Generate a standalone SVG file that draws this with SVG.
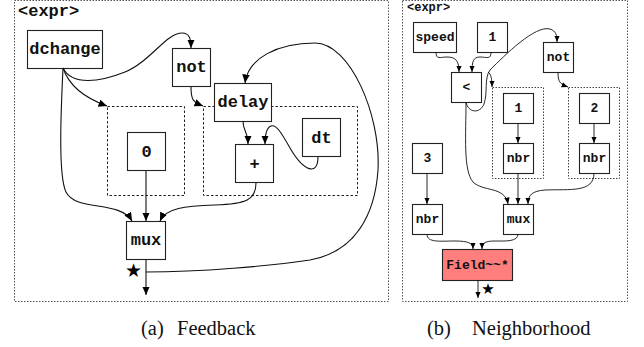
<svg xmlns="http://www.w3.org/2000/svg" width="644" height="347" viewBox="0 0 644 347">
<defs>
<style>
.box{fill:#fff;stroke:#222;stroke-width:1.1}
.hot{fill:#ff7f7f;stroke:#222;stroke-width:1.1}
.outer{fill:none;stroke:#555;stroke-width:1;stroke-dasharray:1.5,1.5}
.grp{fill:none;stroke:#222;stroke-width:1;stroke-dasharray:2.5,2}
.grp2{fill:none;stroke:#444;stroke-width:1;stroke-dasharray:1.5,1.5}
.cl{fill:none;stroke:#111;stroke-width:1.1;marker-end:url(#ah)}
.cr{fill:none;stroke:#111;stroke-width:0.9;marker-end:url(#ahs)}
.tl{font-family:"Liberation Mono",monospace;font-weight:bold;font-size:17px;text-anchor:middle;fill:#111}
.tr{font-family:"Liberation Mono",monospace;font-weight:bold;font-size:13px;text-anchor:middle;fill:#111}
.cap{font-family:"Liberation Serif",serif;font-size:20.5px;fill:#111}
.star{font-family:"DejaVu Sans",sans-serif;text-anchor:middle;fill:#000}
</style>
<marker id="ah" markerUnits="userSpaceOnUse" markerWidth="9" markerHeight="8" refX="8.5" refY="3.75" orient="auto">
<path d="M0,0 L8.5,3.75 L0,7.5 z" fill="#000"/>
</marker>
<marker id="ahs" markerUnits="userSpaceOnUse" markerWidth="7" markerHeight="6" refX="6.5" refY="2.75" orient="auto">
<path d="M0,0 L6.5,2.75 L0,5.5 z" fill="#000"/>
</marker>
</defs>
<rect width="644" height="347" fill="#fff"/>

<!-- Panel (a) -->
<g id="panel-a">
<rect class="outer" x="14.5" y="0.5" width="374" height="301"/>
<text class="tl" x="18" y="16" style="text-anchor:start">&lt;expr&gt;</text>
<rect class="grp" x="107.5" y="106.5" width="77" height="89"/>
<rect class="grp" x="203.5" y="106.5" width="154" height="89"/>
</g>

<g id="a-dchange"><rect class="box" x="27.5" y="30.5" width="75" height="38"/><text class="tl" x="65" y="54">dchange</text></g>
<g id="a-not"><rect class="box" x="172.5" y="48.5" width="38" height="38"/><text class="tl" x="191.5" y="72">not</text></g>
<g id="a-delay"><rect class="box" x="214.5" y="83.5" width="57" height="38"/><text class="tl" x="243" y="107">delay</text></g>
<g id="a-zero"><rect class="box" x="127.5" y="132.5" width="38" height="38"/><text class="tl" x="146.5" y="157">0</text></g>
<g id="a-plus"><rect class="box" x="235.5" y="144.5" width="38" height="38"/><text class="tl" x="254.5" y="169">+</text></g>
<g id="a-dt"><rect class="box" x="302.5" y="118.5" width="38" height="38"/><text class="tl" x="321.5" y="143">dt</text></g>
<g id="a-mux"><rect class="box" x="126.5" y="221.5" width="39" height="38"/><text class="tl" x="146" y="245">mux</text></g>
<text class="star" x="133.5" y="277" font-size="19">★</text>

<g id="connectors-a">
<path class="cl" d="M63,68 C72,86 100,82 125,72 C150,62 166,33 182,33 C190,33 191,40 191,48"/>
<path class="cl" d="M63,68 C68,83 82,97 107,106"/>
<path class="cl" d="M63,68 C61,110 58,175 66,192 C76,212 120,200 132,221"/>
<path class="cl" d="M146,171 L146,221"/>
<path class="cl" d="M256,183 C256,200 246,204 215,205 C185,206 166,208 160,221"/>
<path class="cl" d="M191,87 C191,100 193,102 203,106"/>
<path class="cl" d="M243,121 C243,132 248,130 248,144"/>
<path class="cl" d="M318,157 C318,176 304,172 290,148 C281,132 276,124 271,126 C266,128 265,135 265,144"/>
<path class="cl" d="M146,272 C200,272 270,266 310,260 C355,252 375,215 378,170 C381,115 350,43 315,43 C278,43 248,58 245,83"/>
<path class="cl" d="M146,259 L146,295"/>
</g>

<!-- Panel (b) -->
<g id="panel-b">
<rect class="outer" x="402.5" y="0.5" width="225" height="301"/>
<text class="tr" x="407" y="11" style="text-anchor:start;font-size:12px">&lt;expr&gt;</text>
<rect class="grp2" x="492.5" y="87.5" width="51" height="91"/>
<rect class="grp2" x="568.5" y="87.5" width="51" height="91"/>
</g>

<g id="b-speed"><rect class="box" x="413.5" y="22.5" width="43" height="30"/><text class="tr" x="435" y="41">speed</text></g>
<g id="b-one"><rect class="box" x="477.5" y="22.5" width="30" height="30"/><text class="tr" x="492.5" y="41">1</text></g>
<g id="b-not"><rect class="box" x="543.5" y="42.5" width="30" height="30"/><text class="tr" x="558.5" y="61">not</text></g>
<g id="b-lt"><rect class="box" x="451.5" y="72.5" width="30" height="30"/><text class="tr" x="466.5" y="91">&lt;</text></g>
<g id="b-one2"><rect class="box" x="503.5" y="93.5" width="30" height="30"/><text class="tr" x="518.5" y="112">1</text></g>
<g id="b-nbr1"><rect class="box" x="503.5" y="143.5" width="30" height="30"/><text class="tr" x="518.5" y="162">nbr</text></g>
<g id="b-two"><rect class="box" x="579.5" y="93.5" width="30" height="30"/><text class="tr" x="594.5" y="112">2</text></g>
<g id="b-nbr2"><rect class="box" x="579.5" y="143.5" width="30" height="30"/><text class="tr" x="594.5" y="162">nbr</text></g>
<g id="b-three"><rect class="box" x="412.5" y="143.5" width="30" height="30"/><text class="tr" x="427.5" y="162">3</text></g>
<g id="b-nbr3"><rect class="box" x="412.5" y="204.5" width="30" height="30"/><text class="tr" x="427.5" y="223">nbr</text></g>
<g id="b-mux"><rect class="box" x="503.5" y="204.5" width="30" height="30"/><text class="tr" x="518.5" y="223">mux</text></g>
<g id="b-field"><rect class="hot" x="442.5" y="249.5" width="70" height="31"/><text class="tr" x="477.5" y="269">Field~~*</text></g>
<text class="star" x="488" y="294" font-size="15">★</text>

<g id="connectors-b">
<path class="cr" d="M436,52 C436,60 440,57 447,57 C456,57 459,61 459,72"/>
<path class="cr" d="M491,52 C491,60 487,57 480,57 C473,57 472,62 472,72"/>
<path class="cr" d="M466,102 C468,113 480,114 484,104 C488,92 484,78 490,70 C505,55 535,25 550,29 C556,31 557,35 557,42"/>
<path class="cr" d="M488,72 C491,74 492,79 492,87"/>
<path class="cr" d="M466,102 C466,135 463,170 473,182 C483,192 505,186 508,204"/>
<path class="cr" d="M518,123 L518,143"/>
<path class="cr" d="M594,123 L594,143"/>
<path class="cr" d="M518,173 L518,204"/>
<path class="cr" d="M594,173 C594,193 570,189 545,190 C532,191 528,195 528,204"/>
<path class="cr" d="M558,72 C558,82 560,84 568,87"/>
<path class="cr" d="M427,173 L427,204"/>
<path class="cr" d="M427,234 C427,243 440,241 455,241 C468,241 473,243 473,249"/>
<path class="cr" d="M518,234 C518,242 505,241 495,241 C485,241 482,243 482,249"/>
<path class="cr" d="M478,280 L478,298"/>
</g>

<g id="captions">
<text class="cap" y="335"><tspan x="141">(a)</tspan><tspan x="177">Feedback</tspan></text>
<text class="cap" y="335"><tspan x="427">(b)</tspan><tspan x="472">Neighborhood</tspan></text>
</g>
</svg>
